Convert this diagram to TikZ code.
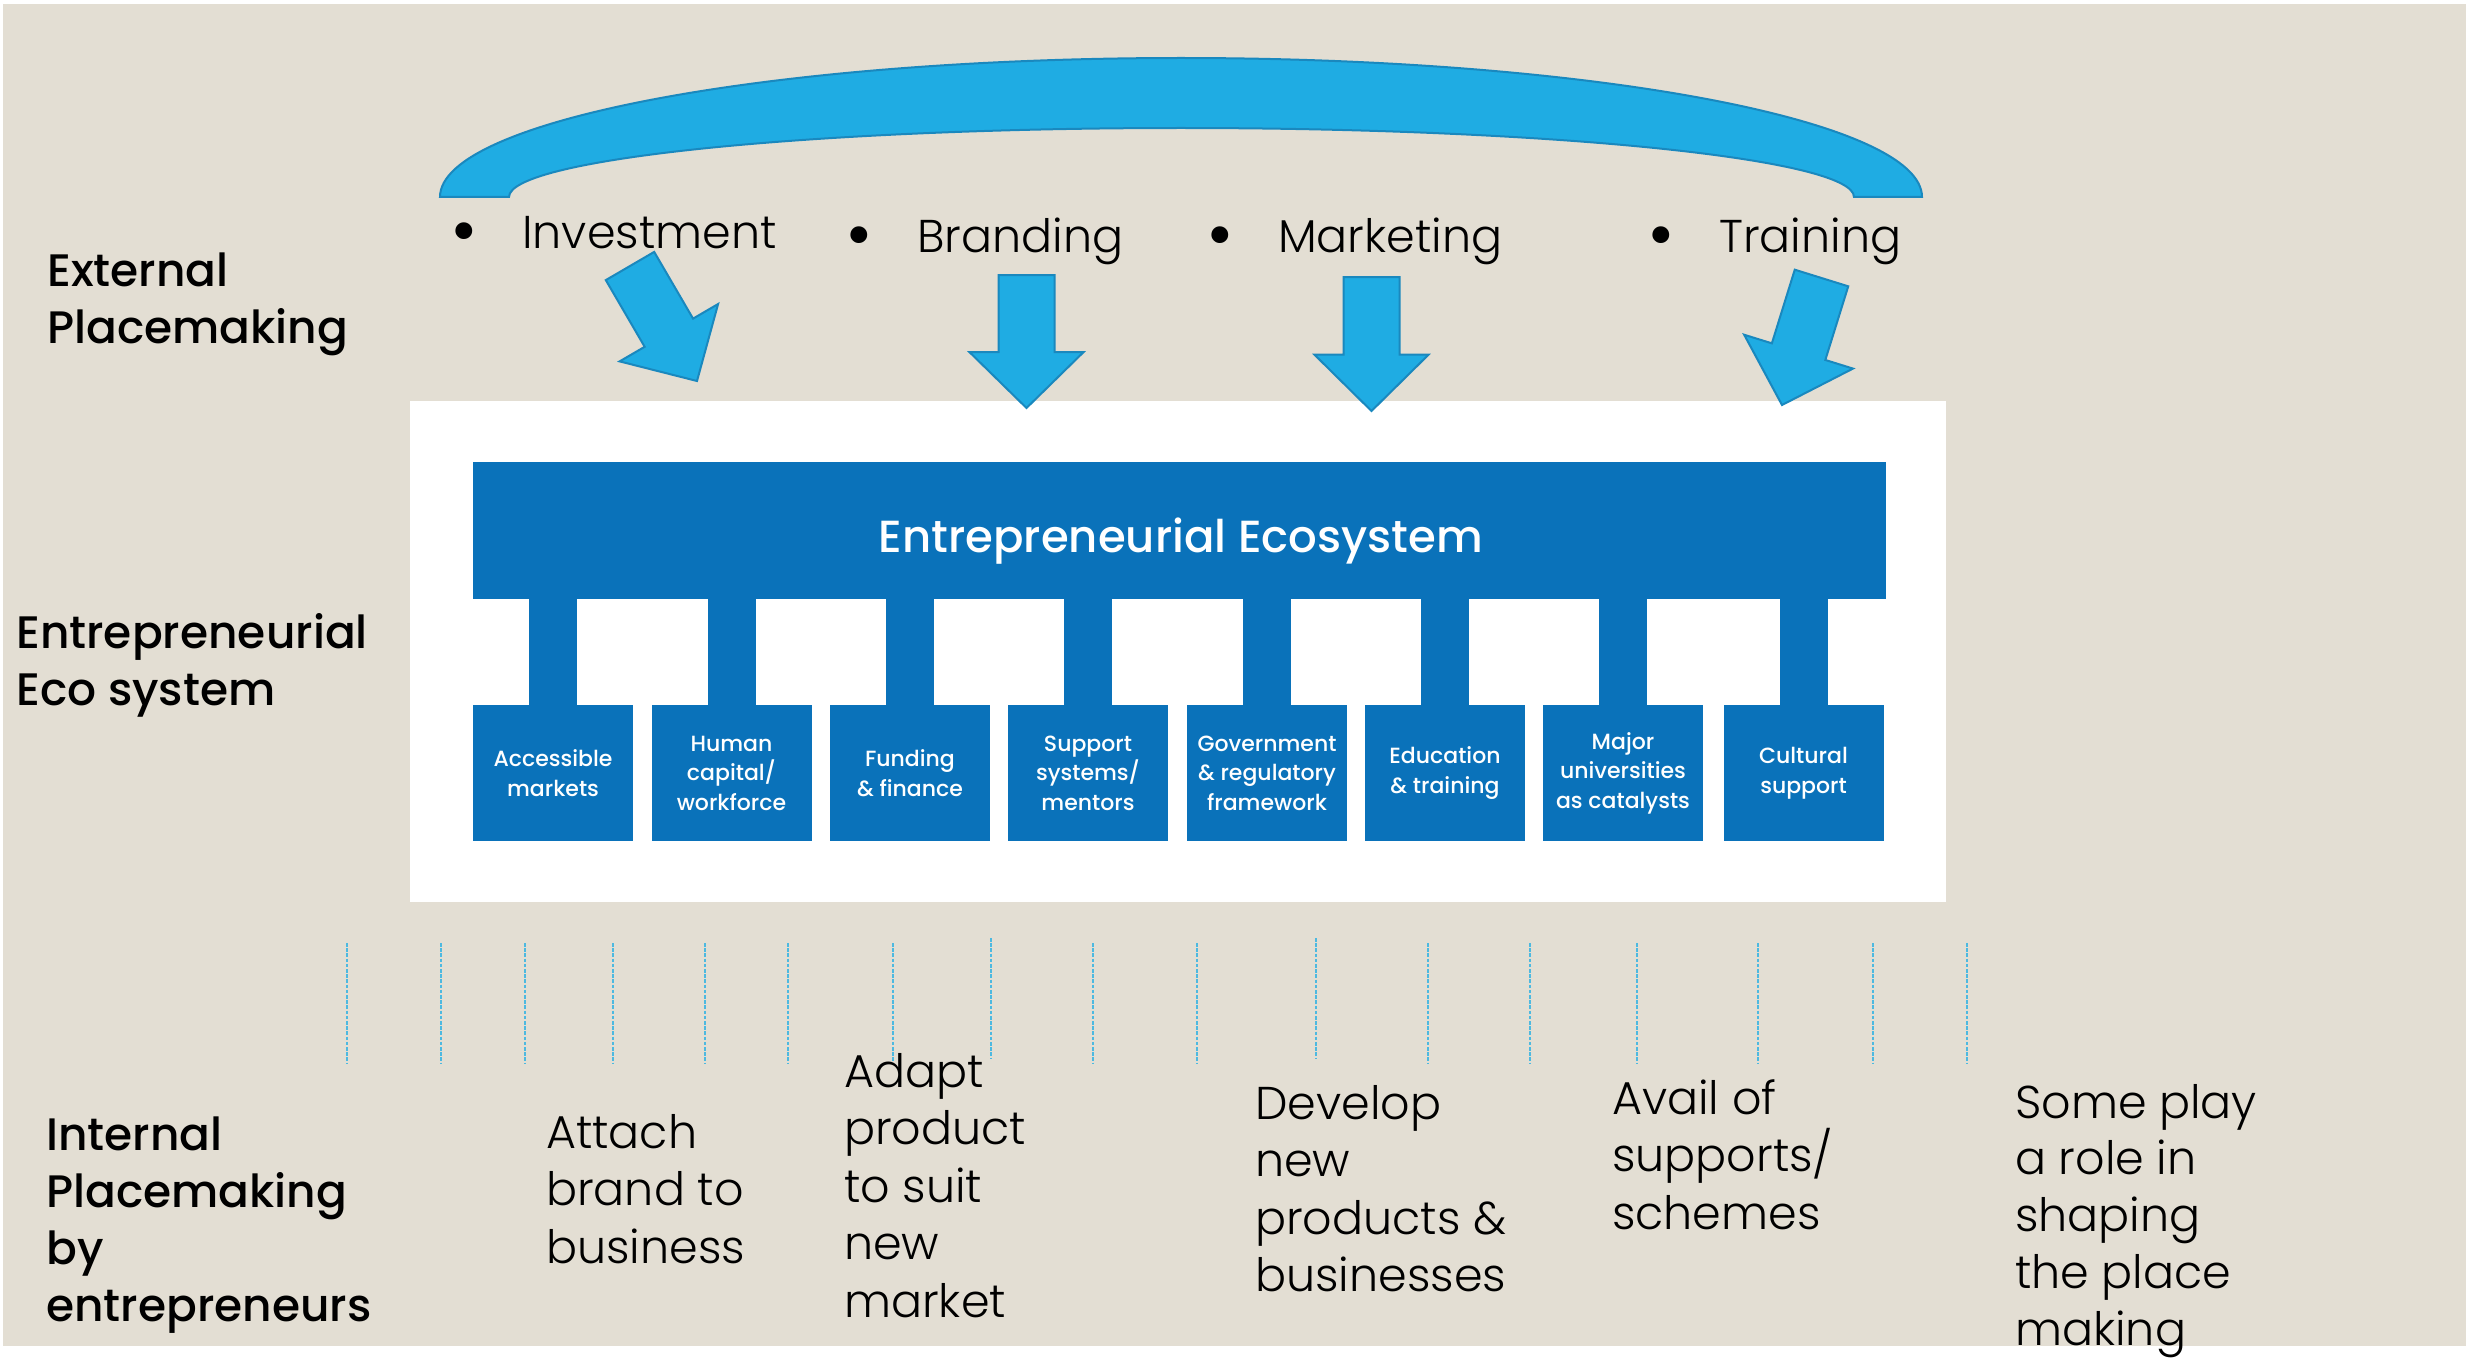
\documentclass[tikz,border=0pt]{standalone}
\usepackage{fontspec}
\usetikzlibrary{calc}
\newfontfamily\plight{Poppins}[UprightFont={* Light}]
\newfontfamily\pmed{Poppins}[UprightFont={* Medium}]
\definecolor{beige}{HTML}{E3DED3}
\definecolor{ecoblue}{HTML}{0A72BA}
\definecolor{cyanfill}{HTML}{1FACE3}
\definecolor{cyanedge}{HTML}{1A88BE}
\definecolor{dashcol}{HTML}{4DB9E0}
\newcommand\ml[1]{\parbox[t]{420pt}{\raggedright #1}}
\newcommand\bult{\llap{\raisebox{-3pt}{\pmed\fontsize{64}{64}\selectfont\textbullet}\hspace{43pt}}}
\newcommand\blockarrow[2]{%
  \coordinate (hh) at ($(#1)!0.58!(#2)$);
  \path[bigarrow] ($(#1)!28pt!90:(#2)$) -- ($(hh)!28pt!90:(#2)$) -- ($(hh)!57pt!90:(#2)$)
    -- (#2) -- ($(hh)!57pt!-90:(#2)$) -- ($(hh)!28pt!-90:(#2)$) -- ($(#1)!28pt!-90:(#2)$) -- cycle;}
\begin{document}
\begin{tikzpicture}[x=1pt,y=-1pt,
  lab/.style={anchor=base west, inner sep=0, font=\pmed\fontsize{45.5}{57}\selectfont},
  body/.style={anchor=base west, inner sep=0, font=\plight\fontsize{46}{57.5}\selectfont},
  bul/.style={anchor=base west, inner sep=0, font=\plight\fontsize{46}{57.5}\selectfont},
  ecobox/.style={fill=ecoblue, minimum width=160, minimum height=136, inner sep=0, text=white,
     align=center, font=\pmed\fontsize{22}{29.5}\selectfont},
  bigarrow/.style={fill=cyanfill, draw=cyanedge, line width=2, line join=miter},
  dashline/.style={draw=dashcol, line width=2, dash pattern=on 3.5pt off 1.7pt}]
\useasboundingbox (0,0) rectangle (2466,1359);
\fill[white] (0,0) rectangle (2466,1359);
\fill[beige] (3,4) rectangle (2466,1346);
\fill[white] (410,401) rectangle (1946,902);

% top arc band
\path[fill=cyanfill, draw=cyanedge, line width=2]
  (440,197) .. controls (440,120.2) and (771.7,58) .. (1181,58)
  .. controls (1590.3,58) and (1922,120.2) .. (1922,197)
  -- (1854,197) .. controls (1854,158.9) and (1552.1,128) .. (1181,128)
  .. controls (809.9,128) and (509,158.9) .. (509,197) -- cycle;

% bullet labels
\node[bul] (inv) at (522,249) {\bult Investment};
\node[bul] (brand) at (917,253) {\bult Branding};
\node[bul] (mark) at (1278,253) {\bult Marketing};
\node[bul] (train) at (1719,253) {\bult Training};

% block arrows
\coordinate (a1t) at (630,266);   \coordinate (a1p) at (697,381);
\coordinate (a2t) at (1026.5,275); \coordinate (a2p) at (1026.5,408);
\coordinate (a3t) at (1371.5,277); \coordinate (a3p) at (1371.5,411);
\coordinate (a4t) at (1821.5,278); \coordinate (a4p) at (1782,405);
\blockarrow{a1t}{a1p}
\blockarrow{a2t}{a2p}
\blockarrow{a3t}{a3p}
\blockarrow{a4t}{a4p}

% left labels
\node[lab] (ext) at (47,287) {\ml{External\\Placemaking}};
\node[lab] (ent) at (16,648) {\ml{Entrepreneurial\\Eco system}};
\node[lab] (int) at (46,1150) {\ml{Internal\\Placemaking\\by\\entrepreneurs}};

% ecosystem graphic
\node[fill=ecoblue, minimum width=1413, minimum height=137, inner sep=0] (eco) at (1179.5,530.5) {};
\node[text=white, inner sep=0, font=\pmed\fontsize{45}{52}\selectfont] (title) at (1181,541) {Entrepreneurial Ecosystem};
\node[ecobox] (b1) at (553,773) {Accessible\\markets};
\node[ecobox] (b2) at (731.5,773) {Human\\capital/\\workforce};
\node[ecobox] (b3) at (910,773) {Funding\\\& finance};
\node[ecobox] (b4) at (1088,773) {Support\\systems/\\mentors};
\node[ecobox] (b5) at (1267,773) {Government\\\& regulatory\\framework};
\node[ecobox] (b6) at (1445,773) {Education\\\& training};
\node[ecobox] (b7) at (1623,773) {Major\\universities\\as catalysts};
\node[ecobox] (b8) at (1803.5,773) {Cultural\\support};
\foreach \b in {b1,b2,b3,b4,b5,b6,b7,b8}
  \draw[ecoblue, line width=48] (\b.north) -- (\b.north |- eco.south);

% dashed guide lines
\foreach \x in {347,441,525,613,705,788,893,1093,1197,1428,1530,1637,1758,1873,1967}
  \draw[dashline] (\x,943) -- (\x,1063);
\foreach \x in {991,1316}
  \draw[dashline] (\x,938) -- (\x,1058);

% bottom texts
\node[body] (attach) at (546,1148) {\ml{Attach\\brand to\\business}};
\node[body] (adapt) at (844,1087) {\ml{Adapt\\product\\to suit\\new\\market}};
\node[body] (develop) at (1255,1119) {\ml{Develop\\new\\products \&\\businesses}};
\node[body] (avail) at (1612,1114) {\ml{Avail of\\supports/\\schemes}};
\node[body, font=\plight\fontsize{46}{56.8}\selectfont] (some) at (2015,1118) {\ml{Some play\\a role in\\shaping\\the place\\making}};
\end{tikzpicture}
\end{document}
